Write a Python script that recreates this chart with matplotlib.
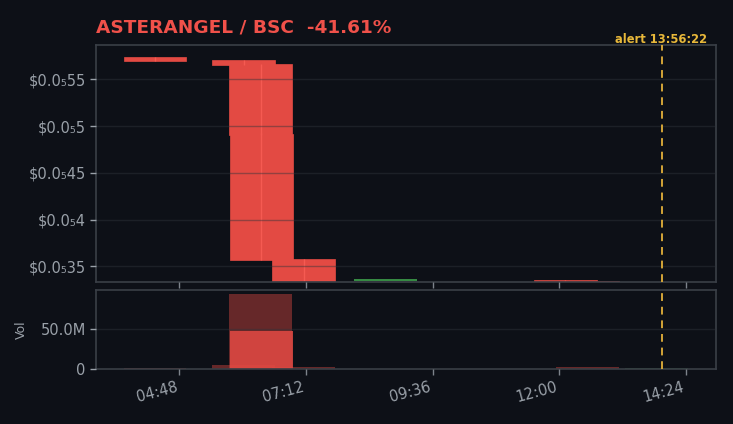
import matplotlib
matplotlib.use("Agg")
import matplotlib.pyplot as plt
from matplotlib.ticker import MultipleLocator, FuncFormatter, FixedLocator
import math

# ---- data ----
times = ["04:20:40", "06:01:15", "06:20:35", "06:21:40", "07:09:30",
         "08:42:25", "12:07:00", "12:32:10", "13:50:30"]
opens = [5.74e-7, 5.706e-7, 5.664e-7, 4.915e-7, 3.578e-7, 3.350e-7, 3.353e-7, 3.343e-7, 3.20e-7]
closes = [5.70e-7, 5.653e-7, 4.904e-7, 3.567e-7, 3.342e-7, 3.352e-7, 3.335e-7, 3.330e-7, 3.21e-7]
highs = [5.74e-7, 5.706e-7, 5.664e-7, 4.93e-7, 3.578e-7, 3.352e-7, 3.353e-7, 3.343e-7, 3.21e-7]
lows = [5.70e-7, 5.653e-7, 4.904e-7, 3.567e-7, 3.342e-7, 3.350e-7, 3.335e-7, 3.330e-7, 3.20e-7]
volumes = [1.2e6, 5.0e6, 93.0e6, 47.5e6, 2.5e6, 0.0, 0.0, 2.5e6, 1.2e6]
alert_time = "13:56:22"
title = "ASTERANGEL / BSC  -41.61%"
xtick_labels = ["04:48", "07:12", "09:36", "12:00", "14:24"]

# ---- style ----
BG = "#0d1017"
RED = "#e34a43"
WICK_RED = "#f55a52"
GREEN = "#3fa34d"
SPINE = "#3a3f47"
TXT = "#9aa1a9"
GRID = "#30343c"
ALERT = "#d4a537"


def to_hours(s):
    parts = [int(p) for p in s.split(":")]
    while len(parts) < 3:
        parts.append(0)
    return parts[0] + parts[1] / 60 + parts[2] / 3600


x = [to_hours(t) for t in times]
xt = [to_hours(t) for t in xtick_labels]
xa = to_hours(alert_time)
width = 1.18

fig = plt.figure(figsize=(7.33, 4.24), dpi=100, facecolor=BG)
axp = fig.add_axes([0.131, 0.3342, 0.8458, 0.5597], facecolor=BG)
axv = fig.add_axes([0.131, 0.1297, 0.8458, 0.1863], facecolor=BG, sharex=axp)

for ax in (axp, axv):
    for sp in ax.spines.values():
        sp.set_color(SPINE)
        sp.set_linewidth(1.2)
    ax.tick_params(colors=TXT, labelcolor=TXT, labelsize=10.5, length=4, width=1)
    ax.tick_params(axis='x', colors="#7d838b")
    ax.set_axisbelow(False)
    ax.grid(axis='y', color=GRID, alpha=0.45, linewidth=1)
    ax.grid(axis='x', visible=False)

# candles
for xi, o, c, h, l in zip(x, opens, closes, highs, lows):
    col = GREEN if c >= o else RED
    bottom = min(o, c)
    height = max(abs(c - o), 1.5e-10)
    if c >= o:
        axp.bar(xi, height, width=width, bottom=bottom, color=col, edgecolor=col, linewidth=1.2, zorder=2)
    else:
        axp.bar(xi, height, width=width, bottom=bottom, color=col, edgecolor=col, linewidth=0.5, zorder=2)
        axp.vlines(xi, l, h, color=WICK_RED, linewidth=1, zorder=2.1)

# volume
for i, (xi, v, o, c) in enumerate(zip(x, volumes, opens, closes)):
    col = GREEN if c >= o else RED
    a = 0.85 if i == 3 else 0.42
    axv.bar(xi, v, width=width, color=col, alpha=a, linewidth=0, zorder=2)

# alert line
for ax in (axp, axv):
    ax.axvline(xa, color=ALERT, linestyle=(0, (4, 3)), linewidth=1.4, zorder=3)


def sub_fmt(v, pos=None):
    if v <= 0:
        return "$0"
    z = int(math.floor(-math.log10(v)))
    s = f"{v:.{z + 4}f}".rstrip("0")
    digits = s.split(".")[1].lstrip("0")
    subs = "₀₁₂₃₄₅₆₇₈₉"
    sub = "".join(subs[int(d)] for d in str(z - 1))
    return f"$0.0{sub}{digits}"


def vol_fmt(v, pos=None):
    if v == 0:
        return "0"
    return f"{v / 1e6:.1f}M"


axp.yaxis.set_major_locator(MultipleLocator(5e-8))
axp.yaxis.set_major_formatter(FuncFormatter(sub_fmt))
axp.set_ylim(3.329e-7, 5.867e-7)
axp.tick_params(axis='x', labelbottom=False)

axv.yaxis.set_major_locator(FixedLocator([0, 50e6]))
axv.yaxis.set_major_formatter(FuncFormatter(vol_fmt))
axv.set_ylim(0, 98e6)
axv.set_ylabel("Vol", color=TXT, fontsize=9, labelpad=9)

axv.xaxis.set_major_locator(FixedLocator(xt))
axv.set_xticklabels(xtick_labels, rotation=15, ha='right', color=TXT, fontsize=10.5)
axv.set_xlim(3.228, 14.968)

fig.text(0.131, 0.936, title, color="#f0514a", fontsize=13.3, fontweight='bold', ha='left', va='center')
fig.text(0.9646, 0.9057, f"alert {alert_time}", color="#e8b83a", fontsize=8.3, fontweight='bold', ha='right', va='center')

fig.savefig("out.png", dpi=100, facecolor=BG)
